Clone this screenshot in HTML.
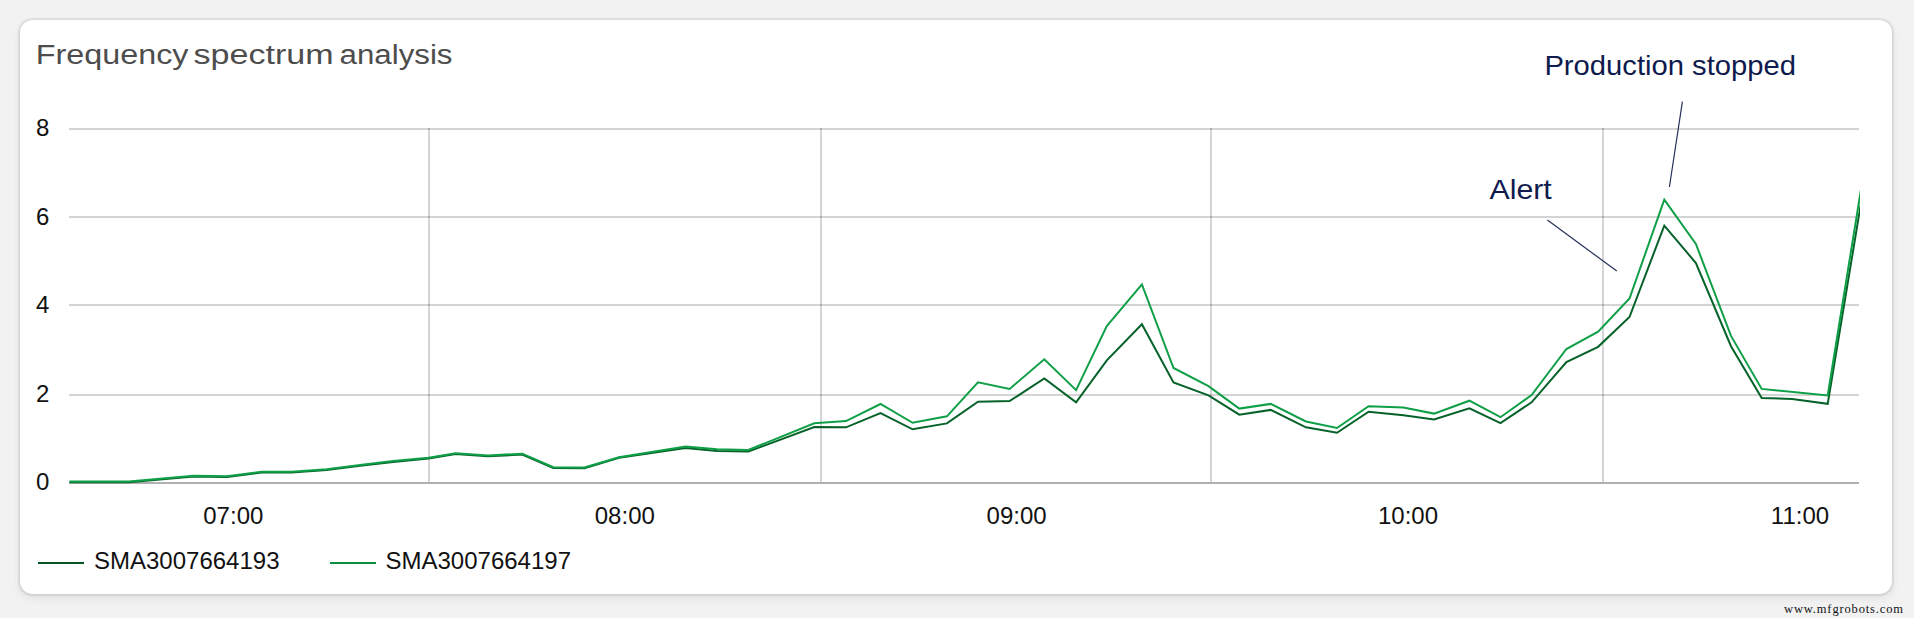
<!DOCTYPE html>
<html>
<head>
<meta charset="utf-8">
<style>
html,body{margin:0;padding:0;}
body{width:1914px;height:618px;background:#f2f2f3;position:relative;overflow:hidden;font-family:"Liberation Sans",sans-serif;}
.card{position:absolute;left:20px;top:20px;width:1872px;height:574px;background:#fff;border-radius:13px;box-shadow:0 0 1px 1.5px rgba(40,40,60,0.09),0 4px 9px 0px rgba(40,40,60,0.09);}
svg{position:absolute;left:0;top:0;}
.wm{position:absolute;left:1784px;top:602px;font-family:"Liberation Serif",serif;font-size:12.5px;letter-spacing:0.85px;line-height:14px;color:#111;}
</style>
</head>
<body>
<div class="card"></div>
<svg width="1914" height="618" viewBox="0 0 1914 618">
  <defs>
    <clipPath id="plot"><rect x="69" y="100" width="1791" height="400"/></clipPath>
  </defs>
  <!-- title -->
  <g font-family="Liberation Sans" font-size="28.2" fill="#4d4d4d">
    <text x="35.8" y="63.9" textLength="152.7" lengthAdjust="spacingAndGlyphs">Frequency</text>
    <text x="193.6" y="63.9" textLength="140" lengthAdjust="spacingAndGlyphs">spectrum</text>
    <text x="339.5" y="63.9" textLength="113" lengthAdjust="spacingAndGlyphs">analysis</text>
  </g>
  <!-- grid -->
  <g stroke="rgba(0,0,0,0.17)" stroke-width="2" fill="none">
    <line x1="69" y1="129" x2="1859" y2="129"/>
    <line x1="69" y1="217" x2="1859" y2="217"/>
    <line x1="69" y1="305" x2="1859" y2="305"/>
    <line x1="69" y1="395" x2="1859" y2="395"/>
    <line x1="429" y1="128" x2="429" y2="482"/>
    <line x1="821" y1="128" x2="821" y2="482"/>
    <line x1="1211" y1="128" x2="1211" y2="482"/>
    <line x1="1603" y1="128" x2="1603" y2="482"/>
  </g>
  <line x1="69" y1="483" x2="1859" y2="483" stroke="#b0b0b0" stroke-width="2"/>
  <!-- y labels -->
  <g font-family="Liberation Sans" font-size="24" fill="#111">
    <text x="36" y="136">8</text>
    <text x="36" y="225">6</text>
    <text x="36" y="313">4</text>
    <text x="36" y="402">2</text>
    <text x="36" y="490">0</text>
  </g>
  <!-- x labels -->
  <g font-family="Liberation Sans" font-size="24" fill="#111" text-anchor="middle">
    <text x="233.3" y="524">07:00</text>
    <text x="624.8" y="524">08:00</text>
    <text x="1016.6" y="524">09:00</text>
    <text x="1408" y="524">10:00</text>
    <text x="1800" y="524">11:00</text>
  </g>
  <!-- data lines -->
  <g clip-path="url(#plot)" fill="none" stroke-width="2" stroke-linejoin="miter">
    <polyline id="dark" stroke="#066229" points="69.5,482.3 129,482.3 193.6,476.5 226.9,477 261.5,472.5 291.4,472.5 326.7,470 360,465.8 393,461.9 428.6,458.5 455.6,454 487.8,456.3 522.3,454.5 553.3,468 584.4,468.2 619,457.8 685.6,448 717,451 748.3,451.6 814.3,427 846,427.3 880.5,413.1 912.6,429.3 946.9,423.4 978,401.7 1009.6,401.1 1044.3,378.5 1076.1,402.3 1106.8,360.4 1141.9,324.2 1173.5,382.4 1208.5,395.3 1239.3,414.7 1270.7,409.9 1305.9,427.3 1337,432.8 1368.6,411.7 1403.4,415.3 1434,419.4 1469.4,408.4 1500.5,423.1 1531.6,402.3 1566.4,362 1598.1,346.8 1629.5,317 1664.3,225.6 1695.9,263 1731,346.2 1761.7,398 1792.2,399 1827.7,403.8 1870,148.7"/>
    <polyline id="light" stroke="#0f9f47" points="69.5,481.5 129,481.5 193.6,475.7 226.9,476.2 261.5,471.7 291.4,471.7 326.7,469.2 360,465 393,461.1 428.6,457.7 455.6,453.2 487.8,455.5 522.3,453.7 553.3,467.2 584.4,467.4 619,457.3 685.6,446.5 717,449.2 748.3,450 814.3,423.3 846,421.1 880.5,404 912.6,422.8 946.9,416.3 978,382.3 1009.6,388.9 1044.3,359.3 1076.1,390.1 1106.8,326 1141.9,284.4 1173.5,368 1208.5,386.2 1239.3,408.6 1270.7,403.9 1305.9,421.5 1337,428 1368.6,406.2 1403.4,407.5 1434,413.6 1469.4,400.7 1500.5,417.2 1531.6,395 1566.4,349 1598.1,331.6 1629.5,298.5 1664.3,199.6 1695.9,244 1731,335.9 1761.7,388.9 1827.7,395.5 1870,133.6"/>
  </g>
  <!-- annotations -->
  <g stroke="#27305a" stroke-width="1.2">
    <line x1="1682.4" y1="101.6" x2="1669.4" y2="187"/>
    <line x1="1547.4" y1="219.9" x2="1616.8" y2="271.1"/>
  </g>
  <g font-family="Liberation Sans" font-size="28.5" fill="#0f1a4d" lengthAdjust="spacingAndGlyphs">
    <text x="1544.4" y="74.7" textLength="251.6" lengthAdjust="spacingAndGlyphs">Production stopped</text>
    <text x="1489.5" y="198.9" textLength="62.3" lengthAdjust="spacingAndGlyphs">Alert</text>
  </g>
  <!-- legend -->
  <line x1="38" y1="563" x2="84" y2="563" stroke="#055524" stroke-width="2"/>
  <text x="94" y="569" font-family="Liberation Sans" font-size="24" fill="#111">SMA3007664193</text>
  <line x1="330" y1="563" x2="376" y2="563" stroke="#0a9040" stroke-width="2"/>
  <text x="385.5" y="569" font-family="Liberation Sans" font-size="24" fill="#111">SMA3007664197</text>
</svg>
<div class="wm">www.mfgrobots.com</div>
</body>
</html>
